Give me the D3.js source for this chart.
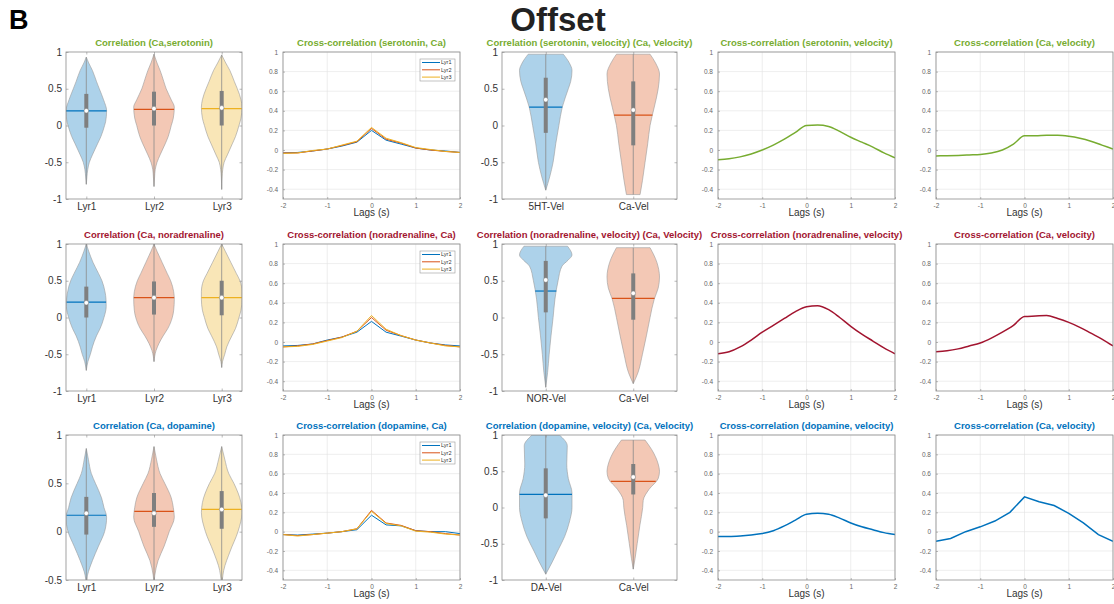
<!DOCTYPE html>
<html>
<head>
<meta charset="utf-8">
<script src="https://cdn.jsdelivr.net/npm/d3@7"></script>
<style>
  body { margin: 0; background: #fff; }
  svg { display: block; font-family: "Liberation Sans", Arial, sans-serif; }
</style>
</head>
<body>
<div id="fig"></div>
<script>
// ---- data ----
const lagsCoarse = [-2, -1.67, -1.33, -1, -0.67, -0.33, 0, 0.33, 0.67, 1, 1.33, 1.67, 2];
const lagsFine = [-2, -1.75, -1.5, -1.25, -1, -0.75, -0.5, -0.25, 0, 0.25, 0.5, 0.75, 1, 1.25, 1.5, 1.75, 2];

const layerLabels = ["Lyr1", "Lyr2", "Lyr3"];

// violin profiles: [value, relative half width]
const serLyr1 = [[0.93,0],[0.85,0.12],[0.75,0.3],[0.6,0.5],[0.5,0.64],[0.35,0.85],[0.2,1],[0.05,0.95],[0,0.9],[-0.15,0.72],[-0.25,0.55],[-0.4,0.3],[-0.5,0.15],[-0.6,0.07],[-0.7,0.03],[-0.8,0]];
const serLyr2 = [[0.97,0],[0.85,0.15],[0.75,0.3],[0.6,0.48],[0.5,0.6],[0.35,0.85],[0.25,1],[0.1,0.95],[0,0.85],[-0.15,0.7],[-0.25,0.55],[-0.4,0.3],[-0.5,0.15],[-0.6,0.06],[-0.7,0.03],[-0.83,0]];
const serLyr3 = [[0.96,0],[0.85,0.2],[0.75,0.4],[0.6,0.62],[0.5,0.77],[0.35,0.95],[0.25,1],[0.1,0.95],[0,0.85],[-0.15,0.68],[-0.25,0.52],[-0.4,0.28],[-0.5,0.12],[-0.6,0.05],[-0.7,0.02],[-0.87,0]];
const serMean = [0.2, 0.22, 0.23];
const serMedian = [0.2, 0.23, 0.24];
const serQ1 = [-0.03, 0, 0];
const serQ3 = [0.43, 0.46, 0.47];

const norLyr1 = [[1,0],[0.9,0.12],[0.75,0.33],[0.6,0.6],[0.5,0.77],[0.35,0.92],[0.25,0.97],[0.15,0.98],[0,0.87],[-0.15,0.68],[-0.25,0.5],[-0.4,0.3],[-0.5,0.2],[-0.6,0.08],[-0.72,0]];
const norLyr2 = [[1,0],[0.9,0.15],[0.75,0.4],[0.6,0.65],[0.5,0.82],[0.35,0.97],[0.25,1],[0.1,0.97],[0,0.9],[-0.15,0.68],[-0.25,0.45],[-0.35,0.25],[-0.45,0.1],[-0.6,0]];
const norLyr3 = [[1,0],[0.9,0.18],[0.75,0.45],[0.6,0.72],[0.5,0.9],[0.35,1],[0.25,1],[0.1,0.95],[0,0.85],[-0.15,0.68],[-0.25,0.5],[-0.4,0.25],[-0.5,0.15],[-0.6,0.04],[-0.68,0]];
const norMean = [0.21, 0.27, 0.27];
const norMedian = [0.2, 0.27, 0.27];
const norQ1 = [0, 0.04, 0.03];
const norQ3 = [0.42, 0.49, 0.5];

const dopLyr1 = [[0.86,0],[0.75,0.1],[0.6,0.25],[0.5,0.45],[0.35,0.75],[0.25,0.87],[0.15,1],[0,0.9],[-0.15,0.6],[-0.3,0.3],[-0.45,0.06],[-0.55,0]];
const dopLyr2 = [[0.88,0],[0.75,0.12],[0.6,0.3],[0.5,0.53],[0.35,0.85],[0.25,0.95],[0.15,1],[0,0.75],[-0.15,0.5],[-0.3,0.2],[-0.45,0.04],[-0.55,0]];
const dopLyr3 = [[0.88,0],[0.75,0.15],[0.6,0.35],[0.5,0.6],[0.3,0.95],[0.2,1],[0,0.8],[-0.2,0.42],[-0.4,0.1],[-0.5,0.03],[-0.55,0]];
const dopMean = [0.17, 0.21, 0.23];
const dopMedian = [0.19, 0.19, 0.23];
const dopQ1 = [-0.03, 0.05, 0.03];
const dopQ3 = [0.36, 0.4, 0.42];

const serVel5HT = [[0.97,0.67],[0.85,0.9],[0.75,1],[0.6,0.95],[0.5,0.86],[0.25,0.63],[0,0.5],[-0.25,0.38],[-0.5,0.28],[-0.7,0.15],[-0.88,0]];
const serVelCa = [[0.97,0.64],[0.85,0.85],[0.7,1],[0.5,0.95],[0.25,0.8],[0,0.64],[-0.25,0.55],[-0.5,0.45],[-0.75,0.35],[-0.94,0.26]];
const serVelMean = [0.25, 0.14];
const serVelMedian = [0.35, 0.21];
const serVelQ1 = [-0.1, -0.27];
const serVelQ3 = [0.65, 0.6];

const norVelNOR = [[0.97,0.83],[0.85,1],[0.78,0.85],[0.7,0.62],[0.5,0.47],[0.25,0.35],[0,0.28],[-0.25,0.2],[-0.5,0.13],[-0.75,0.07],[-0.95,0]];
const norVelCa = [[0.95,0.64],[0.75,0.9],[0.55,1],[0.4,0.95],[0.25,0.8],[0,0.64],[-0.25,0.5],[-0.5,0.35],[-0.75,0.18],[-0.9,0]];
const norVelMean = [0.36, 0.26];
const norVelMedian = [0.51, 0.33];
const norVelQ1 = [0.07, -0.03];
const norVelQ3 = [0.77, 0.6];

const dopVelDA = [[1,0.52],[0.85,0.82],[0.6,0.8],[0.4,0.86],[0.2,1],[0,1],[-0.2,0.9],[-0.4,0.72],[-0.6,0.45],[-0.75,0.25],[-0.92,0]];
const dopVelCa = [[0.93,0.45],[0.8,0.7],[0.6,0.95],[0.5,1],[0.4,0.95],[0.25,0.6],[0.1,0.38],[0,0.36],[-0.25,0.25],[-0.5,0.15],[-0.7,0.07],[-0.85,0]];
const dopVelMean = [0.18, 0.36];
const dopVelMedian = [0.17, 0.42];
const dopVelQ1 = [-0.15, 0.18];
const dopVelQ3 = [0.54, 0.6];

// cross-correlation (transmitter, Ca), one series per layer, on lagsCoarse
const serCaLyr1 = [-0.03,-0.025,-0.01,0.01,0.04,0.08,0.2,0.1,0.06,0.02,0,-0.01,-0.025];
const serCaLyr2 = [-0.03,-0.03,-0.01,0.01,0.045,0.085,0.22,0.11,0.07,0.02,0,-0.015,-0.025];
const serCaLyr3 = [-0.035,-0.03,-0.005,0.01,0.05,0.09,0.23,0.12,0.075,0.025,0.005,-0.015,-0.025];
const norCaLyr1 = [-0.04,-0.035,-0.02,0.02,0.05,0.1,0.21,0.1,0.06,0.02,-0.01,-0.03,-0.04];
const norCaLyr2 = [-0.05,-0.04,-0.02,0.015,0.05,0.11,0.25,0.12,0.065,0.02,-0.01,-0.035,-0.05];
const norCaLyr3 = [-0.05,-0.045,-0.025,0.01,0.045,0.11,0.27,0.13,0.065,0.02,-0.01,-0.04,-0.05];
const dopCaLyr1 = [-0.03,-0.035,-0.025,-0.015,0,0.02,0.17,0.07,0.06,0.01,0,0,-0.02];
const dopCaLyr2 = [-0.03,-0.04,-0.03,-0.015,0,0.03,0.22,0.09,0.065,0.01,0,-0.02,-0.035];
const dopCaLyr3 = [-0.03,-0.045,-0.03,-0.015,0,0.03,0.21,0.085,0.06,0.005,-0.005,-0.025,-0.035];

// cross-correlation with velocity, on lagsFine
const serVelXcorr = [-0.1,-0.09,-0.07,-0.04,0,0.05,0.11,0.18,0.25,0.255,0.24,0.19,0.13,0.08,0.03,-0.03,-0.08];
const caSerVelXcorr = [-0.06,-0.058,-0.055,-0.05,-0.045,-0.03,0,0.06,0.145,0.145,0.15,0.15,0.14,0.12,0.09,0.05,0.01];
const norVelXcorr = [-0.12,-0.1,-0.05,0.02,0.1,0.17,0.24,0.31,0.36,0.37,0.33,0.25,0.16,0.08,0.01,-0.06,-0.12];
const caNorVelXcorr = [-0.1,-0.09,-0.07,-0.04,-0.01,0.04,0.1,0.17,0.26,0.265,0.27,0.24,0.2,0.15,0.09,0.03,-0.04];
const dopVelXcorr = [-0.05,-0.05,-0.045,-0.035,-0.02,0.01,0.06,0.12,0.18,0.19,0.18,0.14,0.09,0.05,0.02,-0.01,-0.03];
// this one on lagsCoarse
const caDopVelXcorr = [-0.1,-0.07,0,0.05,0.11,0.2,0.36,0.31,0.27,0.19,0.09,-0.03,-0.1];

const violinTicks = [-1, -0.5, 0, 0.5, 1];
const violinTicksShort = [-0.5, 0, 0.5, 1];
const xcorrYTicks = [-0.4, -0.2, 0, 0.2, 0.4, 0.6, 0.8, 1];
const xcorrXTicks = [-2, -1, 0, 1, 2];

// ---- layout ----
const width = 1114, height = 604;
const colLeft = [66, 283, 502, 718, 936];
const colWidth = [176, 177, 175, 177, 177];
const rowTop = [52, 244, 435];
const rowHeight = [147, 147, 145];
const rowColor = ["#77AC30", "#A2142F", "#0072BD"];
const layerColor = ["#0072BD", "#D95319", "#EDB120"];
const boxColor = "#8c8c8c";
const plain = d => String(d);

const svg = d3.select("#fig").append("svg")
  .attr("width", width)
  .attr("height", height);

svg.append("text")
  .attr("x", 9).attr("y", 29)
  .text("B")
  .style("font-size", "27px")
  .style("font-weight", "bold");

svg.append("text")
  .attr("x", 558).attr("y", 31)
  .attr("text-anchor", "middle")
  .text("Offset")
  .style("font-size", "33px")
  .style("font-weight", "bold")
  .style("fill", "#222");

let clipId = 0;

function makePanel(col, row, title) {
  const w = colWidth[col], h = rowHeight[row];
  const g = svg.append("g").attr("transform", `translate(${colLeft[col]},${rowTop[row]})`);
  const id = "clip" + (clipId++);
  g.append("clipPath").attr("id", id)
    .append("rect").attr("width", w).attr("height", h);
  g.append("text")
    .attr("x", w / 2).attr("y", -6)
    .attr("text-anchor", "middle")
    .text(title)
    .style("font-size", "9.5px")
    .style("font-weight", "bold")
    .style("fill", rowColor[row]);
  return { g, w, h, clip: `url(#${id})` };
}

function styleAxis(sel, size, color) {
  sel.select(".domain").remove();
  sel.selectAll(".tick line").attr("stroke", boxColor).attr("stroke-width", 0.6);
  sel.selectAll(".tick text")
    .style("font-size", size)
    .style("font-family", "'Liberation Sans', Arial, sans-serif")
    .attr("fill", color);
}

// interpolate the half width of a profile at value v
function widthAt(shape, v) {
  for (let i = 0; i < shape.length - 1; i++) {
    const a = shape[i], b = shape[i + 1];
    if (v <= a[0] && v >= b[0]) {
      const t = (a[0] - v) / (a[0] - b[0]);
      return a[1] + t * (b[1] - a[1]);
    }
  }
  return 0;
}

function violinPanel(col, row, opts) {
  const { g, w, h, clip } = makePanel(col, row, opts.title);
  const n = opts.shapes.length;
  const x = d3.scaleLinear().domain(opts.xDomain).range([0, w]);
  const y = d3.scaleLinear().domain(opts.yDomain).range([h, 0]);
  const half = 0.3;

  const plot = g.append("g").attr("clip-path", clip);

  opts.shapes.forEach((shape, i) => {
    const c = i + 1;
    const area = d3.area()
      .y(d => y(d[0]))
      .x0(d => x(c - d[1] * half))
      .x1(d => x(c + d[1] * half))
      .curve(d3.curveMonotoneY);
    plot.append("path")
      .datum(shape.slice().reverse())
      .attr("d", area)
      .attr("fill", layerColor[i])
      .attr("fill-opacity", 0.32)
      .attr("stroke", "#9a9a9a")
      .attr("stroke-width", 0.6);

    // whisker
    plot.append("line")
      .attr("x1", x(c)).attr("x2", x(c))
      .attr("y1", y(shape[0][0])).attr("y2", y(shape[shape.length - 1][0]))
      .attr("stroke", "#8a8a8a").attr("stroke-width", 0.8);

    // mean line
    const mw = widthAt(shape, opts.means[i]) * half;
    plot.append("line")
      .attr("x1", x(c - mw)).attr("x2", x(c + mw))
      .attr("y1", y(opts.means[i])).attr("y2", y(opts.means[i]))
      .attr("stroke", layerColor[i]).attr("stroke-width", 1.2);

    // interquartile box
    plot.append("rect")
      .attr("x", x(c) - 2).attr("width", 4)
      .attr("y", y(opts.q3[i]))
      .attr("height", y(opts.q1[i]) - y(opts.q3[i]))
      .attr("fill", "#7f7f7f");

    plot.append("circle")
      .attr("cx", x(c)).attr("cy", y(opts.medians[i]))
      .attr("r", 2.3)
      .attr("fill", "#fff")
      .attr("stroke", "#7f7f7f").attr("stroke-width", 0.5);
  });

  const centers = d3.range(1, n + 1);
  g.append("g").attr("transform", `translate(0,${h})`)
    .call(d3.axisBottom(x).tickValues(centers).tickFormat((d, i) => opts.labels[i])
      .tickSizeInner(-2.5).tickSizeOuter(0).tickPadding(4))
    .call(s => styleAxis(s, "10px", "#333"));
  g.append("g")
    .call(d3.axisTop(x).tickValues(centers).tickFormat("").tickSizeInner(-2.5).tickSizeOuter(0))
    .call(s => styleAxis(s, "10px", "#333"));
  g.append("g")
    .call(d3.axisLeft(y).tickValues(opts.yTicks).tickFormat(plain).tickSizeInner(-2.5).tickSizeOuter(0).tickPadding(4))
    .call(s => styleAxis(s, "10px", "#333"));
  g.append("g").attr("transform", `translate(${w},0)`)
    .call(d3.axisRight(y).tickValues(opts.yTicks).tickFormat("").tickSizeInner(-2.5).tickSizeOuter(0))
    .call(s => styleAxis(s, "10px", "#333"));

  g.append("rect").attr("width", w).attr("height", h)
    .attr("fill", "none").attr("stroke", boxColor).attr("stroke-width", 0.8);
}

function xcorrPanel(col, row, opts) {
  const { g, w, h, clip } = makePanel(col, row, opts.title);
  const x = d3.scaleLinear().domain([-2, 2]).range([0, w]);
  const y = d3.scaleLinear().domain([-0.5, 1]).range([h, 0]);

  // grid
  g.append("g").selectAll("line").data(xcorrXTicks).enter().append("line")
    .attr("x1", d => x(d)).attr("x2", d => x(d))
    .attr("y1", 0).attr("y2", h)
    .attr("stroke", "#e3e3e3").attr("stroke-width", 0.6);
  g.append("g").selectAll("line").data(xcorrYTicks).enter().append("line")
    .attr("x1", 0).attr("x2", w)
    .attr("y1", d => y(d)).attr("y2", d => y(d))
    .attr("stroke", "#e3e3e3").attr("stroke-width", 0.6);

  const plot = g.append("g").attr("clip-path", clip);
  opts.series.forEach(s => {
    const line = d3.line()
      .x((d, i) => x(s.lags[i]))
      .y(d => y(d))
      .curve(s.smooth ? d3.curveMonotoneX : d3.curveLinear);
    plot.append("path")
      .datum(s.values)
      .attr("d", line)
      .attr("fill", "none")
      .attr("stroke", s.color)
      .attr("stroke-width", s.width);
  });

  g.append("g").attr("transform", `translate(0,${h})`)
    .call(d3.axisBottom(x).tickValues(xcorrXTicks).tickFormat(plain).tickSizeInner(-2).tickSizeOuter(0).tickPadding(4))
    .call(s => styleAxis(s, "6.5px", "#666"));
  g.append("g")
    .call(d3.axisLeft(y).tickValues(xcorrYTicks).tickFormat(plain).tickSizeInner(-2).tickSizeOuter(0).tickPadding(5))
    .call(s => styleAxis(s, "6.5px", "#666"));

  g.append("rect").attr("width", w).attr("height", h)
    .attr("fill", "none").attr("stroke", boxColor).attr("stroke-width", 0.8);

  g.append("text")
    .attr("x", w / 2).attr("y", h + 17)
    .attr("text-anchor", "middle")
    .text("Lags (s)")
    .style("font-size", "10px")
    .style("fill", "#333");

  if (opts.legend) {
    const lg = g.append("g").attr("transform", `translate(${w - 40},7)`);
    lg.append("rect").attr("width", 35).attr("height", 22)
      .attr("fill", "#fff").attr("stroke", "#999").attr("stroke-width", 0.6);
    layerLabels.forEach((lab, i) => {
      lg.append("line")
        .attr("x1", 2).attr("x2", 20)
        .attr("y1", 3.5 + i * 7.3).attr("y2", 3.5 + i * 7.3)
        .attr("stroke", layerColor[i]).attr("stroke-width", 1);
      lg.append("text")
        .attr("x", 21).attr("y", 3.5 + i * 7.3).attr("dy", "0.35em")
        .text(lab)
        .style("font-size", "5.5px")
        .style("fill", "#333");
    });
  }
}

// ---- row 1: serotonin ----
violinPanel(0, 0, {
  title: "Correlation (Ca,serotonin)",
  labels: layerLabels, xDomain: [0.7, 3.3], yDomain: [-1, 1], yTicks: violinTicks,
  shapes: [serLyr1, serLyr2, serLyr3],
  means: serMean, medians: serMedian, q1: serQ1, q3: serQ3
});
xcorrPanel(1, 0, {
  title: "Cross-correlation (serotonin, Ca)", legend: true,
  series: [serCaLyr1, serCaLyr2, serCaLyr3].map((v, i) => ({ values: v, lags: lagsCoarse, color: layerColor[i], width: 1 }))
});
violinPanel(2, 0, {
  title: "Correlation (serotonin, velocity) (Ca, Velocity)",
  labels: ["5HT-Vel", "Ca-Vel"], xDomain: [0.5, 2.5], yDomain: [-1, 1], yTicks: violinTicks,
  shapes: [serVel5HT, serVelCa],
  means: serVelMean, medians: serVelMedian, q1: serVelQ1, q3: serVelQ3
});
xcorrPanel(3, 0, {
  title: "Cross-correlation (serotonin, velocity)",
  series: [{ values: serVelXcorr, lags: lagsFine, color: rowColor[0], width: 1.5, smooth: true }]
});
xcorrPanel(4, 0, {
  title: "Cross-correlation (Ca, velocity)",
  series: [{ values: caSerVelXcorr, lags: lagsFine, color: rowColor[0], width: 1.5, smooth: true }]
});

// ---- row 2: noradrenaline ----
violinPanel(0, 1, {
  title: "Correlation (Ca, noradrenaline)",
  labels: layerLabels, xDomain: [0.7, 3.3], yDomain: [-1, 1], yTicks: violinTicks,
  shapes: [norLyr1, norLyr2, norLyr3],
  means: norMean, medians: norMedian, q1: norQ1, q3: norQ3
});
xcorrPanel(1, 1, {
  title: "Cross-correlation (noradrenaline, Ca)", legend: true,
  series: [norCaLyr1, norCaLyr2, norCaLyr3].map((v, i) => ({ values: v, lags: lagsCoarse, color: layerColor[i], width: 1 }))
});
violinPanel(2, 1, {
  title: "Correlation (noradrenaline, velocity) (Ca, Velocity)",
  labels: ["NOR-Vel", "Ca-Vel"], xDomain: [0.5, 2.5], yDomain: [-1, 1], yTicks: violinTicks,
  shapes: [norVelNOR, norVelCa],
  means: norVelMean, medians: norVelMedian, q1: norVelQ1, q3: norVelQ3
});
xcorrPanel(3, 1, {
  title: "Cross-correlation (noradrenaline, velocity)",
  series: [{ values: norVelXcorr, lags: lagsFine, color: rowColor[1], width: 1.5, smooth: true }]
});
xcorrPanel(4, 1, {
  title: "Cross-correlation (Ca, velocity)",
  series: [{ values: caNorVelXcorr, lags: lagsFine, color: rowColor[1], width: 1.5, smooth: true }]
});

// ---- row 3: dopamine ----
violinPanel(0, 2, {
  title: "Correlation (Ca, dopamine)",
  labels: layerLabels, xDomain: [0.7, 3.3], yDomain: [-0.5, 1], yTicks: violinTicksShort,
  shapes: [dopLyr1, dopLyr2, dopLyr3],
  means: dopMean, medians: dopMedian, q1: dopQ1, q3: dopQ3
});
xcorrPanel(1, 2, {
  title: "Cross-correlation (dopamine, Ca)", legend: true,
  series: [dopCaLyr1, dopCaLyr2, dopCaLyr3].map((v, i) => ({ values: v, lags: lagsCoarse, color: layerColor[i], width: 1 }))
});
violinPanel(2, 2, {
  title: "Correlation (dopamine, velocity) (Ca, Velocity)",
  labels: ["DA-Vel", "Ca-Vel"], xDomain: [0.5, 2.5], yDomain: [-1, 1], yTicks: violinTicks,
  shapes: [dopVelDA, dopVelCa],
  means: dopVelMean, medians: dopVelMedian, q1: dopVelQ1, q3: dopVelQ3
});
xcorrPanel(3, 2, {
  title: "Cross-correlation (dopamine, velocity)",
  series: [{ values: dopVelXcorr, lags: lagsFine, color: rowColor[2], width: 1.5, smooth: true }]
});
xcorrPanel(4, 2, {
  title: "Cross-correlation (Ca, velocity)",
  series: [{ values: caDopVelXcorr, lags: lagsCoarse, color: rowColor[2], width: 1.5 }]
});
</script>
</body>
</html>
